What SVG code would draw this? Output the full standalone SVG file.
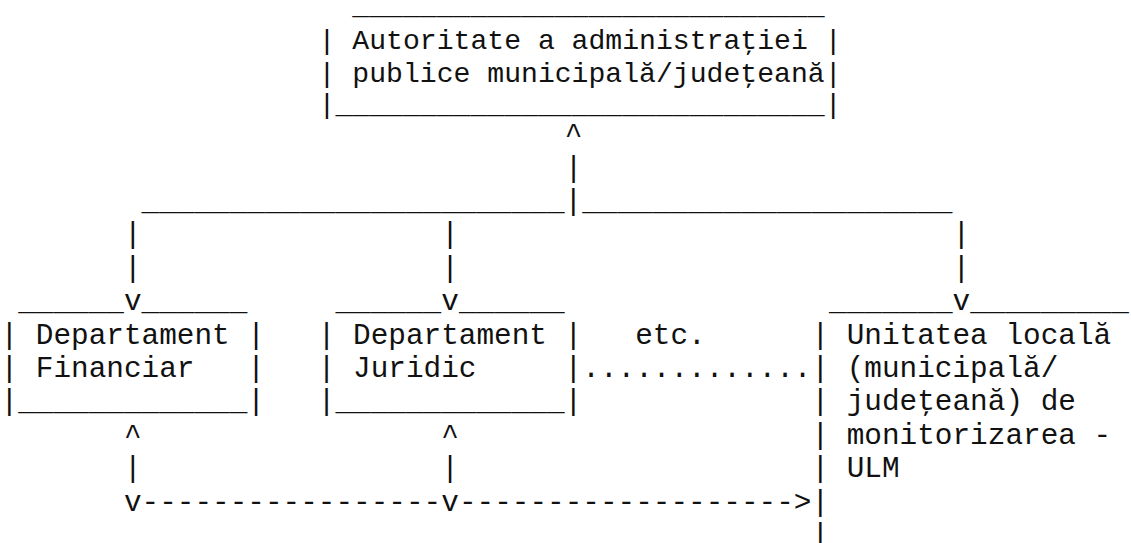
<svg xmlns="http://www.w3.org/2000/svg" width="1131" height="543" viewBox="0 0 1131 543">
<style>
.m{font-family:"Liberation Mono","DejaVu Sans Mono",monospace;font-size:29.38px;fill:#111;white-space:pre}
.t{font-family:"Liberation Mono","DejaVu Sans Mono",monospace;font-size:28.12px;fill:#111;white-space:pre}
</style>
<rect width="1131" height="543" fill="#fff"/>
<g id="node-autoritate" xml:space="preserve">
<text class="t" x="352.3" y="14">____________________________</text>
<text class="t" x="318.6" y="48.5">| Autoritate a administraţiei |</text>
<text class="t" x="318.6" y="82">| publice municipală/judeţeană|</text>
<text class="t" x="318.6" y="113">|</text>
<text class="t" x="335.47" y="113">__________</text>
<text class="t" x="504.17" y="113">__________</text>
<text class="t" x="672.87" y="113">_________</text>
<text class="t" x="824.7" y="113">|</text>
</g>
<g id="connectors" xml:space="preserve">
<text class="m" x="564.66" y="143.2">^</text>
<text class="m" x="564.66" y="176.6">|</text>
<text class="m" x="141.54" y="210">________________________|_____________________</text>
<text class="m" x="123.91" y="243.4">|</text>
<text class="m" x="441.25" y="243.4">|</text>
<text class="m" x="952.52" y="243.4">|</text>
<text class="m" x="123.91" y="276.8">|</text>
<text class="m" x="441.25" y="276.8">|</text>
<text class="m" x="952.52" y="276.8">|</text>
<text class="m" x="123.91" y="310.2">v</text>
<text class="m" x="441.25" y="310.2">v</text>
<text class="m" x="952.52" y="310.2">v</text>
<text class="m" x="582.29" y="377">.............</text>
<text class="m" x="123.91" y="443.8">^</text>
<text class="m" x="441.25" y="443.8">^</text>
<text class="m" x="123.91" y="477.2">|</text>
<text class="m" x="441.25" y="477.2">|</text>
<text class="m" x="123.91" y="510.6">v</text>
<text class="m" x="141.54" y="510.6">----------</text>
<text class="m" x="317.84" y="510.6">-------</text>
<text class="m" x="441.25" y="510.6">v</text>
<text class="m" x="458.88" y="510.6">----------</text>
<text class="m" x="635.18" y="510.6">---------</text>
<text class="m" x="793.85" y="510.6">&gt;</text>
</g>
<g id="node-financiar" xml:space="preserve">
<text class="m" x="18.13" y="310.2">______</text>
<text class="m" x="141.54" y="310.2">______</text>
<text class="m" x="0.5" y="343.6">| Departament |</text>
<text class="m" x="0.5" y="377">| Financiar   |</text>
<text class="m" x="0.5" y="410.4">|_____________|</text>
</g>
<g id="node-juridic" xml:space="preserve">
<text class="m" x="335.47" y="310.2">______</text>
<text class="m" x="458.88" y="310.2">______</text>
<text class="m" x="317.84" y="343.6">| Departament |</text>
<text class="m" x="317.84" y="377">| Juridic     |</text>
<text class="m" x="317.84" y="410.4">|_____________|</text>
</g>
<g id="node-etc">
<text class="m" x="635.18" y="343.6">etc.</text>
</g>
<g id="node-ulm" xml:space="preserve">
<text class="m" x="829.11" y="310.2">_______</text>
<text class="m" x="970.15" y="310.2">_________</text>
<text class="m" x="811.48" y="343.6">| Unitatea locală</text>
<text class="m" x="811.48" y="377">| (municipală/</text>
<text class="m" x="811.48" y="410.4">| judeţeană) de</text>
<text class="m" x="811.48" y="443.8">| monitorizarea -</text>
<text class="m" x="811.48" y="477.2">| ULM</text>
<text class="m" x="811.48" y="510.6">|</text>
<text class="m" x="811.48" y="544">|</text>
</g>
</svg>
